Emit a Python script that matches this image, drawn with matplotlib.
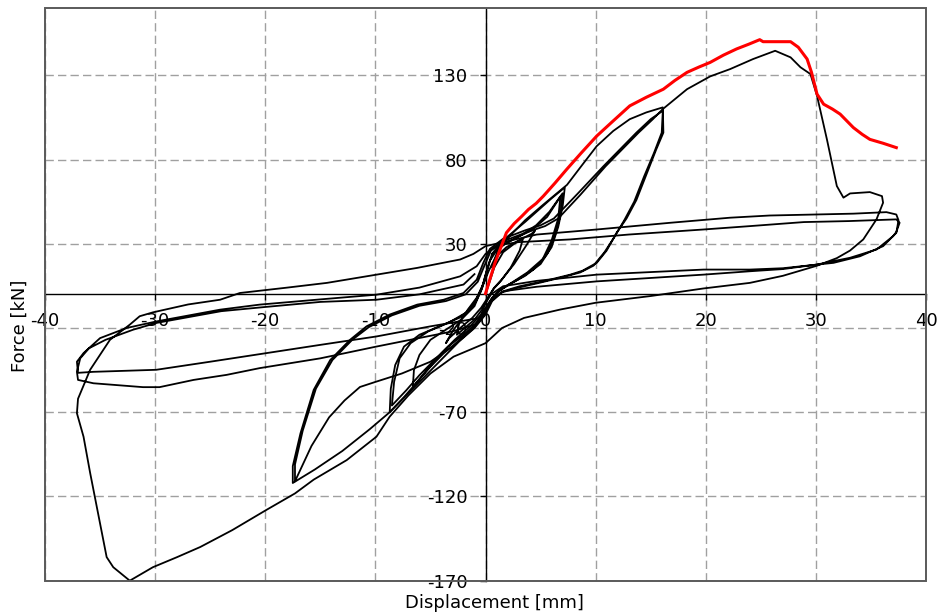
import matplotlib
matplotlib.use('Agg')
import matplotlib.pyplot as plt
from matplotlib.patches import Rectangle

plt.rcParams['font.family'] = ['DejaVu Sans']
plt.rcParams['axes.unicode_minus'] = False

# envelope of the monotonic test (red)
env_x = [0.0, 0.4, 0.86, 1.4, 1.9, 2.6, 3.3, 3.9, 4.6, 5.25, 6.3, 7.37, 8.7, 10.1, 11.6, 13.1, 14.6,
         16.15, 17.2, 18.3, 19.4, 20.4, 21.6, 22.8, 23.9, 24.9, 25.2, 26.5, 27.7, 28.4, 29.2, 29.6,
         30.1, 30.7, 31.5, 32.2, 33.4, 34.2, 34.9, 36.1, 37.3]
env_y = [0.5, 9, 18.7, 28, 36.6, 42, 46.4, 50.4, 54, 58.3, 66, 74.2, 84, 94, 103, 111.9, 117,
         121.8, 127, 131.8, 135, 137.7, 142, 145.7, 148.5, 151.2, 150, 150, 150, 146.7, 139.7, 131.8,
         118.9, 112.9, 110, 107, 99, 95, 92, 89.7, 87.1]

# small cycles around the origin
c0_x = [0.0, 0.3, 0.8, 1.6, 2.6, 3.4, 3.1, 2.3, 1.4, 0.7, 0.2, -0.3, -1.0, -1.9, -2.6, -2.4,
        -1.6, -0.8, -0.2, 0.3, 0.9, 1.9, 3.0, 4.2, 4.5, 3.8, 2.6, 1.5, 0.8, 0.2, -0.4, -1.2,
        -2.3, -3.3, -3.6, -3.0, -2.0, -1.0, -0.3, 0.2]
c0_y = [0.0, 6, 16, 25, 30, 33, 26, 16, 8, 3, -3, -9, -15, -20, -24, -17,
        -9, -2, 6, 14, 22, 28, 32, 36, 38, 30, 18, 9, 4, -2, -8, -14,
        -20, -26, -29, -22, -13, -5, 4, 14]

# cycles to about +7 / -9 mm
c1_x = [0.6, 1.4, 2.5, 3.6, 4.8, 6.0, 7.2, 7.0, 6.6, 6.0, 5.0, 3.6, 2.2, 1.0, 0.3, -0.3, -1.2,
        -2.5, -3.8, -5.0, -6.2, -7.4, -8.7, -8.6, -8.2, -7.4, -6.0, -4.2, -2.4, -1.2, -0.4, 0.1,
        0.6, 1.8, 3.2, 4.6, 5.8, 7.0, 6.8, 6.3, 5.6, 4.4, 3.0, 1.6, 0.6, 0.0, -0.8, -2.0, -3.4,
        -4.8, -6.0, -7.2, -8.5, -8.3, -7.8, -6.8, -5.2, -3.4, -1.8, -0.8, -0.1, 0.4, 1.2, 2.6,
        4.2, 5.6, 6.8, 6.6, 6.0, 5.2, 3.8, 2.4, 1.2, 0.4, -0.4, -1.4, -2.8, -4.0, -5.2, -6.6,
        -6.5, -6.0, -5.0, -3.6, -2.2, -1.0, -0.3, 0.2]
c1_y = [24, 31, 37, 43, 50, 57, 63.5, 52, 40, 28, 18, 11, 6, 1, -6, -14, -21,
        -28, -35, -43, -52, -61, -70, -56, -42, -31, -24, -19, -14, -8, 2, 14,
        24, 30, 35, 41, 49, 60, 47, 35, 24, 15, 9, 4, -2, -9, -17, -24, -31,
        -40, -48, -57, -66, -52, -38, -29, -22, -17, -11, -3, 8, 20, 28, 33,
        38, 46, 58, 45, 32, 21, 13, 7, 2, -4, -12, -19, -27, -35, -44, -55,
        -45, -36, -27, -21, -15, -7, 4, 16]

# cycles to about +16 / -17.5 mm
c2_x = [0.6, 1.2, 2.4, 3.6, 5.2, 7.4, 8.8, 10.1, 11.6, 13.1, 14.6, 16.1, 16.15, 15.5, 14.6,
        13.7, 12.8, 11.9, 11.0, 10.1, 8.8, 7.7, 5.4, 3.1, 1.6, 0.6, 0.0, -1.0, -2.4, -4.5,
        -6.6, -8.7, -10.5, -13.0, -15.5, -17.5, -17.5, -16.8, -15.6, -14.1, -12.3, -10.8,
        -8.7, -6.2, -3.8, -2.0, -0.8, -0.2, 0.4, 1.6, 3.6, 5.0, 6.2, 8.4, 10.7, 12.2, 13.7,
        15.0, 16.1, 16.0, 15.3, 14.4, 13.5, 12.6, 11.7, 10.8, 9.8, 8.6, 7.2, 5.0, 3.0, 1.4,
        0.4, -0.2, -1.3, -2.8, -5.0, -7.6, -10.0, -11.4, -12.8, -14.2, -15.8, -16.8, -17.3,
        -17.3, -16.6, -15.4, -13.9, -12.1, -10.6, -8.5, -6.0, -3.6, -1.8, -0.7, -0.1, 0.5,
        1.8, 3.8, 5.4, 6.6, 8.6, 10.9, 12.4, 13.9, 15.2, 16.1]
c2_y = [16, 28, 36, 44, 53, 65, 77, 88, 97, 104, 108, 111, 96, 86, 71,
        56, 45, 36.5, 26, 18.7, 14, 11.7, 8, 4.8, 1.8, -4, -12, -20, -28, -42,
        -56, -70, -80, -93, -104, -112, -102, -82.5, -56.7, -39, -27, -19,
        -12, -6.1, -3.2, 0.8, 8.7, 18.7, 27, 33, 38, 41, 45, 60, 76, 86, 96,
        104, 109, 96, 84, 70, 55, 44, 34, 25, 17, 13, 10.5, 7, 4, 1,
        -5, -13, -21, -30, -40, -47, -52, -55, -63, -73, -90, -104, -111,
        -101, -81, -56, -39, -27, -19.5, -12.5, -6.8, -4, 0, 7.5, 17, 26,
        32, 37, 40.5, 45, 59, 76, 86, 96, 104, 110]

# large cycles (+37 / -37 mm)
c3_x = [16.1, 18.3, 20.4, 22.2, 24.3, 26.3, 27.7, 28.6, 29.5, 30.1, 31.0, 31.9, 32.5, 33.1,
        34.9, 36.0, 36.1, 35.5, 34.3, 33.1, 31.9, 30.1, 27.0, 24.0, 19.8, 15.0, 10.0, 6.8,
        3.5, 1.5, 0.0, -2.9, -5.0, -7.0, -8.7, -9.9, -12.6, -15.6, -17.3, -19.9, -23.0,
        -25.9, -28.0, -30.2, -32.3, -33.8, -34.4, -35.0, -35.9, -36.5, -37.1, -37.0, -35.9,
        -34.1, -32.3, -31.4, -30.2, -27.0, -24.1, -22.3, -18.0, -14.4, -9.9, -6.2, -2.3,
        -1.1, 0.0, 4.65, 10.1, 16.8, 22.2, 25.8, 33.4, 36.4, 37.3, 37.5, 37.3, 36.1, 34.0,
        31.6, 27.0, 24.0, 19.8, 10.1, 4.65, 1.6, 0.5, 0.0, -0.5, -5.0, -9.9, -15.0, -19.9,
        -25.0, -29.9, -35.6, -37.0, -37.1, -36.5, -35.0, -32.6, -29.9, -24.1, -20.5, -15.0,
        -9.9, -6.0, -2.3, -0.8, 0.0, 1.0, 3.0, 7.7, 13.0, 19.8, 24.0, 28.9, 33.0, 37.3, 37.6,
        37.3, 37.0, 35.5, 33.1, 30.1, 27.0, 24.0, 19.8, 10.1, 4.65, 1.6, 0.5, 0.0, -1.0,
        -3.0, -9.9, -15.0, -20.5, -23.5, -26.5, -29.6, -31.1, -35.6, -37.0, -37.1, -36.8,
        -36.0, -34.5, -32.0, -29.9, -24.0, -20.0, -15.0, -9.9, -6.0, -2.0, -1.0]
c3_y = [110, 121.8, 129.4, 133.7, 139.7, 144.6, 140.7, 134.8, 130.8, 117.9, 92, 64.3, 57.4, 59.9,
        60.7, 58.3, 54.4, 44.5, 32.6, 26, 21.5, 17, 11, 6.8, 3.5, -1, -5, -9,
        -14, -20, -29, -37, -47, -60, -72.6, -84.5, -98.4, -110, -118.2, -128, -140,
        -150, -156, -162, -170, -162, -156, -136, -106, -84.5, -70.6, -62, -44.8,
        -27, -18, -13, -10.7, -6, -3.2, 0.8, 4, 6.8, 11.7, 15.7, 20.7,
        24, 28.6, 35.5, 38.5, 42.5, 45.5, 46.8, 47.9, 48.8, 47.4, 44, 36.5, 28.6, 22.6,
        18.7, 15.5, 14.7, 14.7, 11.7, 8, 4.8, 0, -5, -14, -19, -25, -30, -34.9,
        -40, -44.8, -46, -46.6, -40, -34.9, -26, -20, -16.1, -9.1, -6.1, -3,
        -0.2, 4, 10.7, 16.7, 24, 29, 31, 32.6, 35.5, 38.5, 40.5, 42.9, 43.5, 44.5, 42.5,
        37, 34.5, 26.6, 21.7, 17.7, 15, 13.7, 11.7, 7.7, 4.5, 1.8, -3, -10, -18,
        -22, -31, -38, -43.8, -47.8, -50.8, -55.1, -55.1, -52.8, -50.8, -46, -38,
        -32, -27, -21, -17, -10, -7.5, -4.5, -3.2, 0, 5.8, 12]

x_ticks = [-40, -30, -20, -10, 0, 10, 20, 30, 40]
y_ticks = [-170, -120, -70, -20, 30, 80, 130]

fig = plt.figure(figsize=(9.39, 6.15), dpi=100)
ax = fig.add_axes([0.0479, 0.0558, 0.9383, 0.9312])
ax.set_xlim(-40, 40)
ax.set_ylim(-170, 170)

for xs, ys in [(c0_x, c0_y), (c1_x, c1_y), (c2_x, c2_y), (c3_x, c3_y)]:
    ax.plot(xs, ys, color='black', lw=1.3, solid_joinstyle='round', zorder=3)
ax.plot(env_x, env_y, color='red', lw=2.2, solid_joinstyle='round', zorder=4)

ax.set_xticks(x_ticks)
ax.set_yticks(y_ticks)
ax.grid(True, color='#a0a0a0', lw=1.0, linestyle=(0, (6, 3)), zorder=0)
ax.set_axisbelow(True)

# axes crossing at the origin, grey frame round the plot
ax.spines['left'].set_position(('data', 0))
ax.spines['bottom'].set_position(('data', 0))
ax.spines['top'].set_visible(False)
ax.spines['right'].set_visible(False)
for s in ['left', 'bottom']:
    ax.spines[s].set_linewidth(1.0)
    ax.spines[s].set_color('black')
ax.add_patch(Rectangle((0, 0), 1, 1, transform=ax.transAxes, fill=False,
                       edgecolor='#5a5a5a', lw=1.4, zorder=5, clip_on=False))
ax.tick_params(direction='out', length=4, width=1, labelsize=13, pad=9)

fig.text(0.527, 0.02, 'Displacement [mm]', fontsize=13, ha='center', va='center')
fig.text(0.021, 0.47, 'Force [kN]', fontsize=13, ha='center', va='center', rotation=90)

fig.savefig('out.png', dpi=100)
